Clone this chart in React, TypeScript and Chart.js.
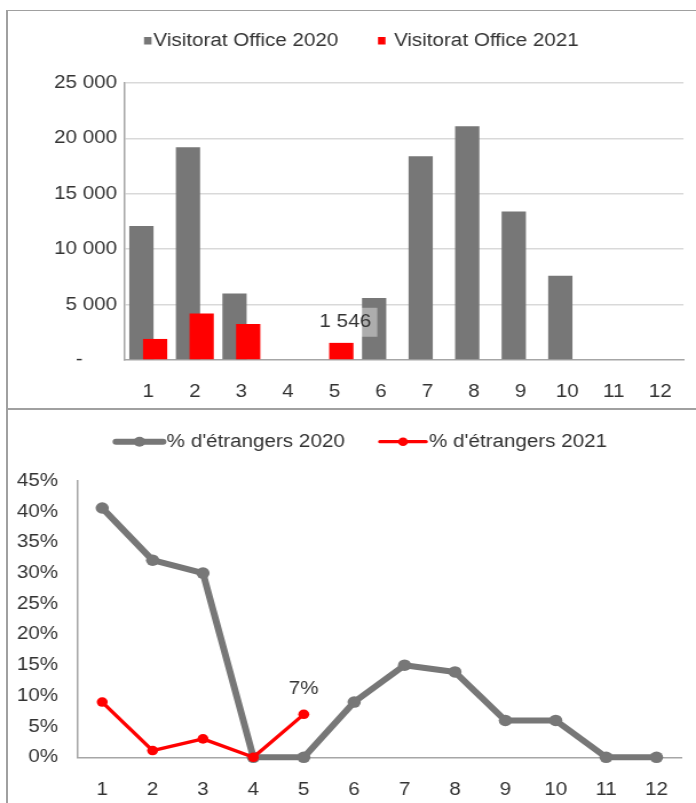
import React, { useEffect, useRef } from 'react';
import { Chart, registerables } from 'chart.js';

Chart.register(...registerables);

// ---------- data ----------
const months = ['1', '2', '3', '4', '5', '6', '7', '8', '9', '10', '11', '12'];
const visitors2020 = [12100, 19200, 6000, 0, 0, 5600, 18400, 21100, 13400, 7600, 0, 0];
const visitors2021: (number | null)[] = [1900, 4200, 3250, 0, 1546, null, null, null, null, null, null, null];
const visitorTicks = [0, 5000, 10000, 15000, 20000, 25000];
const foreign2020 = [0.406, 0.321, 0.3, 0, 0, 0.09, 0.15, 0.139, 0.06, 0.06, 0, 0];
const foreign2021: (number | null)[] = [0.09, 0.011, 0.03, 0, 0.07, null, null, null, null, null, null, null];
const percentTicks = [0, 0.05, 0.1, 0.15, 0.2, 0.25, 0.3, 0.35, 0.4, 0.45];
const barSeriesNames = ['Visitorat Office 2020', 'Visitorat Office 2021'];
const lineSeriesNames = ["% d'étrangers 2020", "% d'étrangers 2021"];

// ---------- styles ----------
const GRAY = '#777777';
const RED = '#FF0000';
const TEXT = '#333333';
const AXIS = '#A6A6A6';
const GRID = '#D9D9D9';
const BORDER = '#A0A0A0';
const FONT = '"Liberation Sans", Arial, sans-serif';
const FONT_SIZE = 18;
const W = 696;
const CW = 608; // logical canvas width, stretched to W
const S = W / CW;

const fmtThousands = (v: number) =>
  v === 0 ? '-      ' : String(Math.round(v)).replace(/\B(?=(\d{3})+(?!\d))/g, ' ');
const fmtPct = (v: number) => Math.round(v * 100) + '%';
const lastIndex = (arr: (number | null)[]) => arr.reduce((a: number, v, i) => (v != null ? i : a), -1);

const redOnTop = {
  id: 'redOnTop',
  beforeDatasetDraw(chart: any, args: any) {
    if (args.index === 1) return false;
  },
  afterDatasetDraw(chart: any, args: any) {
    if (args.index === 0) {
      const meta = chart.getDatasetMeta(1);
      if (meta && !meta.hidden) meta.controller.draw();
    }
  },
};

type LegendItem = {
  label: string;
  color: string;
  kind: 'box' | 'line';
  x0: number;
  x1: number;
  textX: number;
  lineWidth?: number;
  radius?: number;
};

const makeLegend = (items: LegendItem[], y: number) => ({
  id: 'manualLegend',
  afterDraw(chart: any) {
    const ctx = chart.ctx as CanvasRenderingContext2D;
    ctx.save();
    items.forEach((it) => {
      if (it.kind === 'box') {
        ctx.fillStyle = it.color;
        ctx.fillRect(it.x0 / S, y - 4, (it.x1 - it.x0) / S, 7.5);
      } else {
        ctx.strokeStyle = it.color;
        ctx.lineWidth = it.lineWidth || 3;
        ctx.lineCap = 'round';
        ctx.beginPath();
        ctx.moveTo(it.x0 / S, y);
        ctx.lineTo(it.x1 / S, y);
        ctx.stroke();
        ctx.fillStyle = it.color;
        ctx.beginPath();
        ctx.arc((it.x0 + it.x1) / 2 / S, y, it.radius || 4, 0, Math.PI * 2);
        ctx.fill();
      }
      ctx.fillStyle = TEXT;
      ctx.font = `${FONT_SIZE}px ${FONT}`;
      ctx.textAlign = 'left';
      ctx.textBaseline = 'middle';
      ctx.fillText(it.label, it.textX / S, y);
    });
    ctx.restore();
  },
});

const barLabel = {
  id: 'barLabel',
  afterDatasetsDraw(chart: any) {
    const idx = lastIndex(visitors2021);
    const el = chart.getDatasetMeta(1).data[idx];
    if (!el) return;
    const ctx = chart.ctx as CanvasRenderingContext2D;
    const cx = el.x + 4 / S;
    const cy = el.y - 20.6;
    const bw = 64 / S;
    const bh = 29;
    ctx.save();
    ctx.fillStyle = 'rgba(255,255,255,0.4)';
    ctx.fillRect(cx - bw / 2, cy - bh / 2, bw, bh);
    ctx.fillStyle = TEXT;
    ctx.font = `${FONT_SIZE}px ${FONT}`;
    ctx.textAlign = 'center';
    ctx.textBaseline = 'middle';
    ctx.fillText(fmtThousands(visitors2021[idx] as number), cx, cy);
    ctx.restore();
  },
};

const lineLabel = {
  id: 'lineLabel',
  afterDatasetsDraw(chart: any) {
    const idx = lastIndex(foreign2021);
    const el = chart.getDatasetMeta(1).data[idx];
    if (!el) return;
    const ctx = chart.ctx as CanvasRenderingContext2D;
    ctx.save();
    ctx.fillStyle = TEXT;
    ctx.font = `${FONT_SIZE}px ${FONT}`;
    ctx.textAlign = 'center';
    ctx.textBaseline = 'middle';
    ctx.fillText(fmtPct(foreign2021[idx] as number), el.x, el.y - 25);
    ctx.restore();
  },
};

const tickFont = { size: FONT_SIZE, family: FONT };

export default function App() {
  const topRef = useRef<HTMLCanvasElement>(null);
  const botRef = useRef<HTMLCanvasElement>(null);

  useEffect(() => {
    const barChart = new Chart(topRef.current as HTMLCanvasElement, {
      type: 'bar',
      data: {
        labels: months,
        datasets: [
          {
            label: barSeriesNames[0],
            data: visitors2020,
            backgroundColor: GRAY,
            borderWidth: 0,
            categoryPercentage: 0.589,
            barPercentage: 1.77,
          },
          {
            label: barSeriesNames[1],
            data: visitors2021,
            backgroundColor: RED,
            borderWidth: 0,
            categoryPercentage: 0.589,
            barPercentage: 1.77,
          },
        ],
      },
      options: {
        responsive: false,
        animation: false,
        events: [],
        layout: { padding: { left: 0, right: CW - 683.5 / S, top: 83, bottom: 0 } },
        plugins: { legend: { display: false }, tooltip: { enabled: false } },
        scales: {
          x: {
            grid: { display: false },
            border: { display: true, color: AXIS, width: 1.5 },
            ticks: { color: TEXT, font: tickFont, padding: 13, maxRotation: 0, autoSkip: false },
            afterFit: (s: any) => {
              s.height = 48;
            },
          },
          y: {
            min: 0,
            max: 25000,
            afterBuildTicks: (s: any) => {
              s.ticks = visitorTicks.map((v) => ({ value: v }));
            },
            grid: {
              color: (c: any) => (c.tick && c.tick.value === 0 ? 'rgba(0,0,0,0)' : GRID),
              lineWidth: 1.5,
              drawTicks: false,
            },
            border: { display: true, color: AXIS, width: 1.5 },
            ticks: { color: TEXT, font: tickFont, padding: 8 / S, callback: (v: any) => fmtThousands(Number(v)) },
            afterFit: (s: any) => {
              s.width = 125 / S;
            },
          },
        },
      },
      plugins: [
        redOnTop,
        barLabel,
        makeLegend(
          [
            { label: barSeriesNames[0], color: GRAY, kind: 'box', x0: 144, x1: 151.5, textX: 153.5 },
            { label: barSeriesNames[1], color: RED, kind: 'box', x0: 378, x1: 385.5, textX: 394 },
          ],
          41
        ),
      ],
    } as any);

    const lineChart = new Chart(botRef.current as HTMLCanvasElement, {
      type: 'line',
      data: {
        labels: months,
        datasets: [
          {
            label: lineSeriesNames[0],
            data: foreign2020,
            borderColor: GRAY,
            backgroundColor: GRAY,
            borderWidth: 6,
            borderCapStyle: 'round',
            borderJoinStyle: 'round',
            pointRadius: 5.8,
            pointBorderWidth: 0,
            pointBackgroundColor: GRAY,
            tension: 0,
            clip: false,
          },
          {
            label: lineSeriesNames[1],
            data: foreign2021,
            borderColor: RED,
            backgroundColor: RED,
            borderWidth: 3.3,
            borderCapStyle: 'round',
            borderJoinStyle: 'round',
            pointRadius: 4.8,
            pointBorderWidth: 0,
            pointBackgroundColor: RED,
            tension: 0,
            spanGaps: false,
            clip: false,
          },
        ],
      },
      options: {
        responsive: false,
        animation: false,
        events: [],
        layout: { padding: { left: 0, right: CW - 681.7 / S, top: 72, bottom: 0 } },
        plugins: { legend: { display: false }, tooltip: { enabled: false } },
        scales: {
          x: {
            offset: true,
            grid: { display: false },
            border: { display: true, color: AXIS, width: 1.5 },
            ticks: { color: TEXT, font: tickFont, padding: 13.6, maxRotation: 0, autoSkip: false },
            afterFit: (s: any) => {
              s.height = 394 - 348.3;
            },
          },
          y: {
            min: 0,
            max: 0.45,
            afterBuildTicks: (s: any) => {
              s.ticks = percentTicks.map((v) => ({ value: v }));
            },
            grid: { display: false, drawTicks: false },
            border: { display: true, color: AXIS, width: 1.5 },
            ticks: { color: TEXT, font: tickFont, padding: 19 / S, callback: (v: any) => fmtPct(Number(v)) },
            afterFit: (s: any) => {
              s.width = 77 / S;
            },
          },
        },
      },
      plugins: [
        redOnTop,
        lineLabel,
        makeLegend(
          [
            { label: lineSeriesNames[0], color: GRAY, kind: 'line', x0: 116, x1: 163, textX: 166.7, lineWidth: 6, radius: 5 },
            { label: lineSeriesNames[1], color: RED, kind: 'line', x0: 380, x1: 426, textX: 429, lineWidth: 3.3, radius: 4.3 },
          ],
          32.7
        ),
      ],
    } as any);

    return () => {
      barChart.destroy();
      lineChart.destroy();
    };
  }, []);

  return (
    <div
      style={{
        position: 'fixed',
        left: 0,
        top: 0,
        width: W,
        height: 803,
        background: '#ffffff',
        overflow: 'hidden',
      }}
    >
      <canvas
        ref={topRef}
        width={CW}
        height={408}
        style={{ position: 'absolute', left: 0, top: 0, width: W, height: 408 }}
      />
      <canvas
        ref={botRef}
        width={CW}
        height={394}
        style={{ position: 'absolute', left: 0, top: 409, width: W, height: 394 }}
      />
      <div style={{ position: 'absolute', left: 6, top: 9.5, width: W - 6, height: 1.5, background: BORDER }} />
      <div style={{ position: 'absolute', left: 6, top: 9.5, width: 1.5, height: 803, background: BORDER }} />
      <div style={{ position: 'absolute', left: 6, top: 407.5, width: W - 6, height: 2, background: BORDER }} />
    </div>
  );
}
